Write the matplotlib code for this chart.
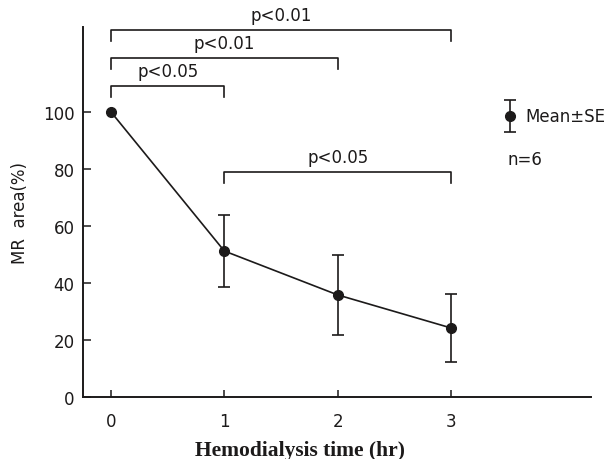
import numpy as np
import matplotlib.pyplot as plt

# data
hours = [0, 1, 2, 3]
mr_area = [100, 51.2, 35.8, 24.2]   # mean, %
mr_se = [0, 12.8, 13.9, 12.0]       # SE, %

# significance brackets: (from, to, label), and the height of each bracket
pairs = [(0, 3, 'p<0.01'), (0, 2, 'p<0.01'), (0, 1, 'p<0.05'), (1, 3, 'p<0.05')]
bracket_y = [128.8, 118.9, 109.1, 78.9]

ink = '#1c1a1a'
fs = 12

fig = plt.figure(figsize=(6.15, 4.6), dpi=100)
ax = fig.add_axes([0.135, 0.135, 0.826, 0.804])

# mean line + SE bars (no bar at time 0)
ax.plot(hours, mr_area, color=ink, lw=1.2, zorder=2)
ax.errorbar(hours[1:], mr_area[1:], yerr=mr_se[1:], fmt='none',
            ecolor=ink, elinewidth=1.2, capsize=4.5, capthick=1.2, zorder=2)
ax.plot(hours, mr_area, 'o', color=ink, ms=7, zorder=3)

# brackets
for (a, b, lab), h in zip(pairs, bracket_y):
    ax.plot([a, a, b, b], [h - 3.8, h, h, h - 3.8], color=ink, lw=1.2,
            clip_on=False)
    ax.text((a + b) / 2, h + 3.4, lab, ha='center', va='baseline',
            fontsize=fs, color=ink, clip_on=False)

# legend-like key on the right
ax.errorbar([3.52], [98.6], yerr=[5.7], fmt='o', color=ink, ms=7,
            elinewidth=1.2, capsize=4, capthick=1.2, clip_on=False)
ax.text(3.66, 98.6, 'Mean\u00b1SE', va='center', ha='left', fontsize=fs,
        color=ink)
ax.text(3.50, 83.5, 'n=6', va='center', ha='left', fontsize=fs, color=ink)

ax.set_xlim(-0.247, 4.236)
ax.set_ylim(0, 129.8)
ax.set_xticks(hours)
ax.set_yticks([0, 20, 40, 60, 80, 100])
ax.tick_params(axis='x', direction='in', length=5, width=1.1, pad=11,
               labelsize=fs, colors=ink)
ax.tick_params(axis='y', direction='in', length=6, width=1.1, pad=6,
               labelsize=fs, colors=ink)
for s in ['top', 'right']:
    ax.spines[s].set_visible(False)
for s in ['left', 'bottom']:
    ax.spines[s].set_linewidth(1.4)
    ax.spines[s].set_color(ink)

ax.set_ylabel('MR  area(%)', fontsize=fs, color=ink, labelpad=10)
fig.text(300 / 615, 1 - 451 / 460, 'Hemodialysis time (hr)', ha='center',
         va='center', fontsize=15.5, fontweight='bold',
         family='Liberation Serif', color=ink)

fig.savefig('out.png', dpi=100)
